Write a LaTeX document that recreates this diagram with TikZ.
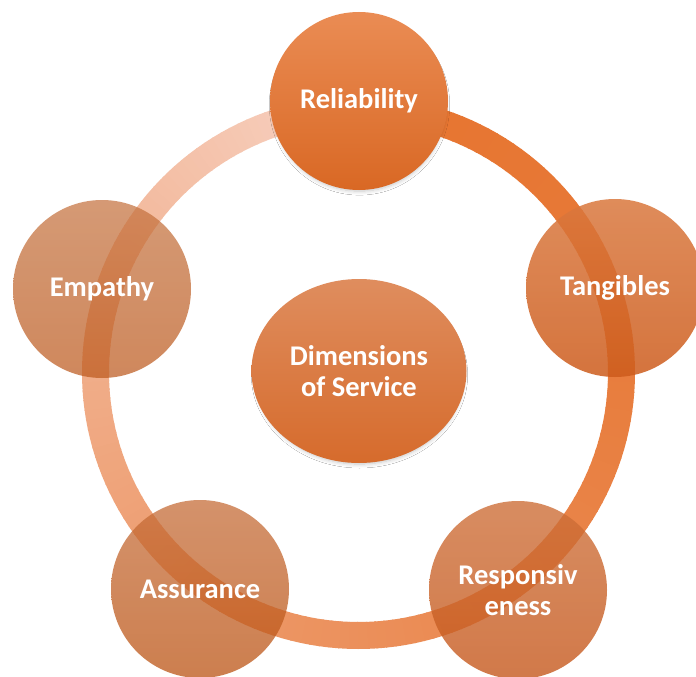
\documentclass[tikz,border=0pt]{standalone}
\usepackage{fontspec}
\setmainfont{Carlito}
\usetikzlibrary{shapes.geometric,shadows.blur}
\definecolor{relT}{RGB}{234,140,84}
\definecolor{relB}{RGB}{217,104,36}
\definecolor{tanT}{RGB}{218,120,62}
\definecolor{tanB}{RGB}{205,92,28}
\definecolor{resT}{RGB}{206,112,58}
\definecolor{resB}{RGB}{198,88,28}
\definecolor{assT}{RGB}{198,110,58}
\definecolor{assB}{RGB}{188,84,20}
\definecolor{empT}{RGB}{197,115,64}
\definecolor{empB}{RGB}{189,90,30}
\definecolor{cenT}{RGB}{223,141,94}
\definecolor{cenB}{RGB}{214,107,44}
\tikzset{
  dimnode/.style={circle, minimum size=178pt, inner sep=0pt, outer sep=0pt,
    text=white, text opacity=1, align=center,
    font=\fontsize{28.5}{31}\selectfont\bfseries},
  softshadow/.style={blur shadow={shadow xshift=0.5pt, shadow yshift=-4pt,
    shadow scale=0.97, shadow opacity=22, shadow blur steps=8, shadow blur radius=4pt}},
}
\begin{document}
\begin{tikzpicture}[x=1pt,y=-1pt]
\useasboundingbox (0,0) rectangle (696,677);
\clip (0,0) rectangle (696,677);
\fill[white] (0,0) rectangle (696,677);
% ring
\coordinate (rc) at (358.5,372.5);
\foreach \i in {0,...,179}{
  \pgfmathsetmacro{\t}{\i/180}
  \pgfmathsetmacro{\f}{\t^1.8}
  \pgfmathtruncatemacro{\rr}{231+(248-231)*\f}
  \pgfmathtruncatemacro{\gg}{118+(212-118)*\f}
  \pgfmathtruncatemacro{\bb}{50+(198-50)*\f}
  \definecolor{ringc}{RGB}{\rr,\gg,\bb}
  \pgfmathsetmacro{\a}{-90+2*\i}
  \draw[ringc, line width=27pt] ([shift={(\a:263)}]rc) arc[start angle=\a, end angle=\a+2.3, radius=263];
}
% center
\node[ellipse, minimum width=215pt, minimum height=184pt, inner sep=0pt,
  top color=cenT, bottom color=cenB, text=white, align=center,
  font=\fontsize{28.5}{31}\selectfont\bfseries, softshadow]
  (center) at (359,371) {Dimensions\\of Service};
% outer circles
\node[dimnode, top color=relT, bottom color=relB, softshadow] (rel) at (359,101) {Reliability};
\node[dimnode, top color=tanT, bottom color=tanB, fill opacity=0.85] (tan) at (615,288) {Tangibles};
\node[dimnode, top color=resT, bottom color=resB, fill opacity=0.8] (res) at (518,590) {Responsiv\\eness};
\node[dimnode, top color=assT, bottom color=assB, fill opacity=0.75] (ass) at (200,589) {Assurance};
\node[dimnode, top color=empT, bottom color=empB, fill opacity=0.72] (emp) at (102,289) {Empathy};
\end{tikzpicture}
\end{document}
